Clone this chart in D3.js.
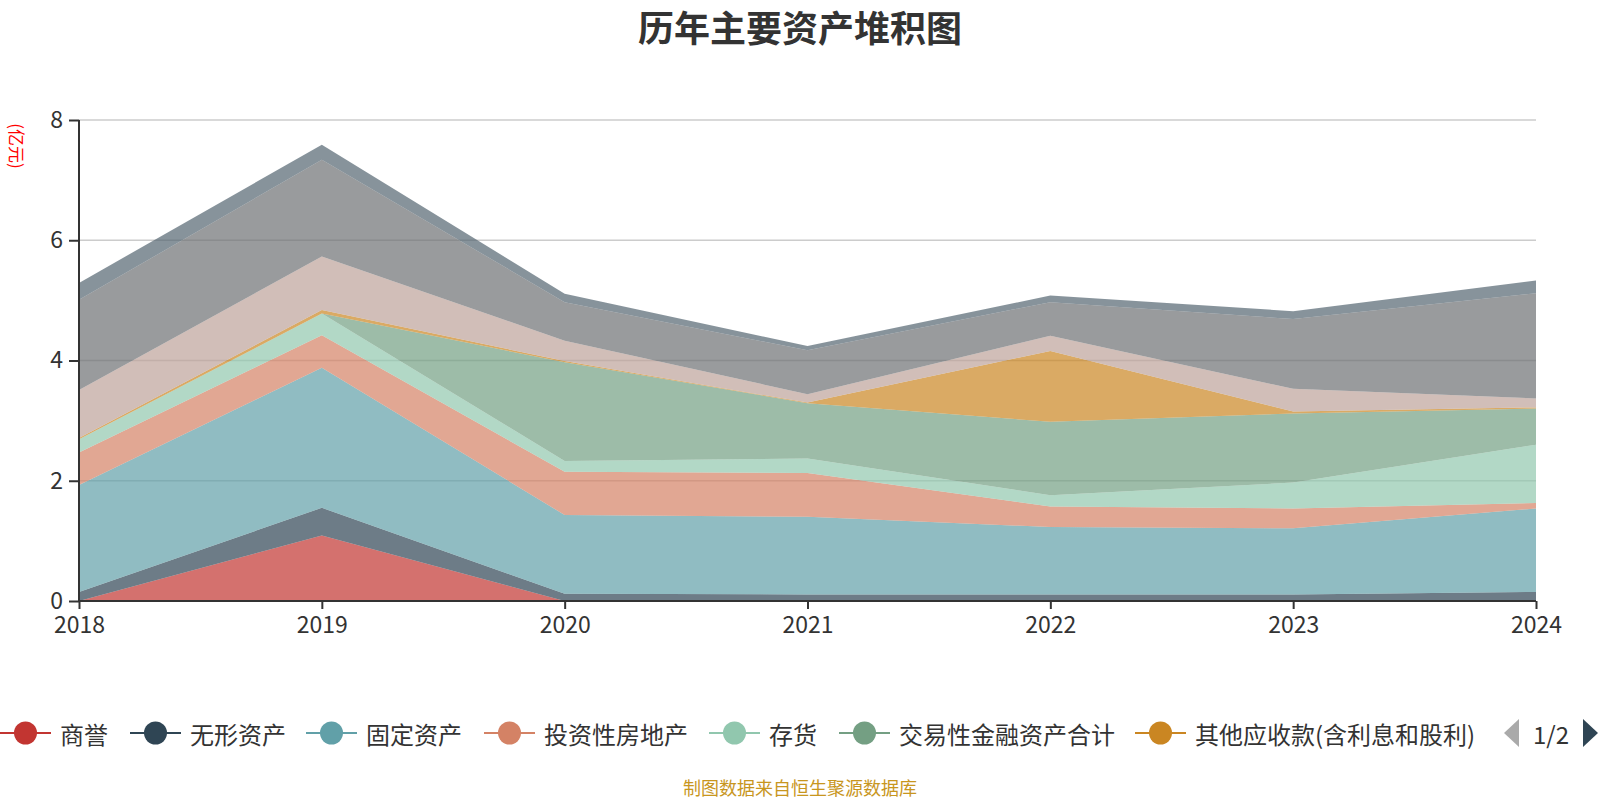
<!DOCTYPE html>
<html>
<head>
<meta charset="utf-8">
<script src="https://cdn.jsdelivr.net/npm/d3@7/dist/d3.min.js"></script>
<style>
  body { margin: 0; background: #fff; }
  svg text { font-family: "Noto Sans CJK SC", "Noto Sans", sans-serif; }
</style>
</head>
<body>
<div id="chart"></div>
<script>
// data, 亿元
const years = ['2018', '2019', '2020', '2021', '2022', '2023', '2024']
const seriesNames = ['商誉', '无形资产', '固定资产', '投资性房地产', '存货', '交易性金融资产合计',
  '其他应收款(含利息和股利)', '应收账款', '货币资金', '预付款项']
const goodwill = [0, 1.09, 0, 0, 0, 0, 0]
const intangible = [0.15, 0.46, 0.12, 0.11, 0.11, 0.11, 0.15]
const fixedAssets = [1.78, 2.33, 1.31, 1.29, 1.12, 1.10, 1.39]
const investProperty = [0.54, 0.54, 0.72, 0.73, 0.34, 0.33, 0.09]
const inventory = [0.22, 0.36, 0.18, 0.24, 0.19, 0.43, 0.97]
const tradingFin = [0, 0, 1.64, 0.92, 1.22, 1.15, 0.6]
const otherRecv = [0.02, 0.06, 0.02, 0.01, 1.18, 0.03, 0.02]
const accountsRecv = [0.8, 0.89, 0.34, 0.14, 0.25, 0.38, 0.15]
const cash = [1.5, 1.61, 0.64, 0.73, 0.56, 1.16, 1.75]
const prepay = [0.28, 0.25, 0.14, 0.07, 0.11, 0.13, 0.21]
const yTicks = [0, 2, 4, 6, 8]
const legendPage = 7 // first legend page shows 7 items

const seriesValues = [goodwill, intangible, fixedAssets, investProperty, inventory,
  tradingFin, otherRecv, accountsRecv, cash, prepay]
const colors = ['#c23531', '#2f4554', '#61a0a8', '#d48265', '#91c7ae', '#749f83',
  '#ca8622', '#bda29a', '#6e7074', '#546570']

const W = 1600
const H = 800
const margin = { top: 120, left: 79, right: 64, bottom: 199 }
const width = W - margin.left - margin.right
const height = H - margin.top - margin.bottom

const rows = years.map((y, i) => {
  const r = { year: y }
  seriesNames.forEach((n, k) => { r[n] = seriesValues[k][i] })
  return r
})

const svgRoot = d3.select('#chart').append('svg')
  .attr('width', W).attr('height', H)

svgRoot.append('text')
  .attr('x', W / 2).attr('y', 26)
  .attr('text-anchor', 'middle').attr('dominant-baseline', 'central')
  .attr('font-size', 36).attr('font-weight', 'bold').attr('fill', '#333')
  .text('历年主要资产堆积图')

// unit label
svgRoot.append('text')
  .attr('transform', 'translate(17,146) rotate(90)')
  .attr('text-anchor', 'middle').attr('dominant-baseline', 'central')
  .attr('font-size', 17).attr('fill', '#ff0000')
  .text('(亿元)')

const svg = svgRoot.append('g')
  .attr('transform', 'translate(' + margin.left + ',' + margin.top + ')')

const x = d3.scalePoint().domain(years).range([0, width])
const y = d3.scaleLinear().domain([0, 8]).range([height, 0])

// grid
svg.append('g').selectAll('line')
  .data(yTicks.filter(d => d > 0))
  .enter().append('line')
  .attr('x1', 0).attr('x2', width)
  .attr('y1', d => y(d)).attr('y2', d => y(d))
  .attr('stroke', '#ccc').attr('stroke-width', 1.5)

const stack = d3.stack().keys(seriesNames)
const layers = stack(rows)

const area = d3.area()
  .x(d => x(d.data.year))
  .y0(d => y(d[0]))
  .y1(d => y(d[1]))

svg.append('g').selectAll('path')
  .data(layers)
  .enter().append('path')
  .attr('d', area)
  .attr('fill', (d, i) => colors[i])
  .attr('fill-opacity', 0.7)

// axes
const yAxis = d3.axisLeft(y).tickValues(yTicks).tickSize(10).tickPadding(6)
svg.append('g').attr('class', 'y-axis').call(yAxis)
const xAxis = d3.axisBottom(x).tickSize(8).tickPadding(8)
svg.append('g').attr('class', 'x-axis')
  .attr('transform', 'translate(0,' + height + ')')
  .call(xAxis)

svg.selectAll('.domain').attr('stroke', '#333').attr('stroke-width', 2)
svg.selectAll('.tick line').attr('stroke', '#333').attr('stroke-width', 2)
svg.selectAll('.tick text').attr('font-size', 23).attr('fill', '#333')
  .attr('font-family', '"Noto Sans", sans-serif')
// plain axis lines, no outer ticks
svg.select('.y-axis .domain').attr('d', 'M0,0V' + height)
svg.select('.x-axis .domain').attr('d', 'M0,0H' + width)

// legend
const legendX = [0, 130, 306, 484, 709, 839, 1135]
const legend = svgRoot.append('g').attr('transform', 'translate(0,733)')
const items = legend.selectAll('g')
  .data(seriesNames.slice(0, legendPage))
  .enter().append('g')
  .attr('transform', (d, i) => 'translate(' + legendX[i] + ',0)')
items.append('line')
  .attr('x1', 0).attr('x2', 51).attr('y1', 0).attr('y2', 0)
  .attr('stroke', (d, i) => colors[i]).attr('stroke-width', 2)
items.append('circle')
  .attr('cx', 25.5).attr('cy', 0).attr('r', 11.5)
  .attr('fill', (d, i) => colors[i])
items.append('text')
  .attr('x', 60).attr('y', 0)
  .attr('dominant-baseline', 'central')
  .attr('font-size', 24).attr('fill', '#333')
  .text(d => d)

// pager
legend.append('path').attr('d', 'M1519,-14L1519,14L1504,0Z').attr('fill', '#aaa')
legend.append('text')
  .attr('x', 1551).attr('y', 0)
  .attr('text-anchor', 'middle').attr('dominant-baseline', 'central')
  .attr('font-size', 24).attr('fill', '#333')
  .attr('font-family', '"Noto Sans", sans-serif')
  .text('1/2')
legend.append('path').attr('d', 'M1583,-14L1583,14L1598,0Z').attr('fill', '#2f4554')

svgRoot.append('text')
  .attr('x', W / 2).attr('y', 787)
  .attr('text-anchor', 'middle').attr('dominant-baseline', 'central')
  .attr('font-size', 18).attr('fill', '#c8961e')
  .text('制图数据来自恒生聚源数据库')
</script>
</body>
</html>
